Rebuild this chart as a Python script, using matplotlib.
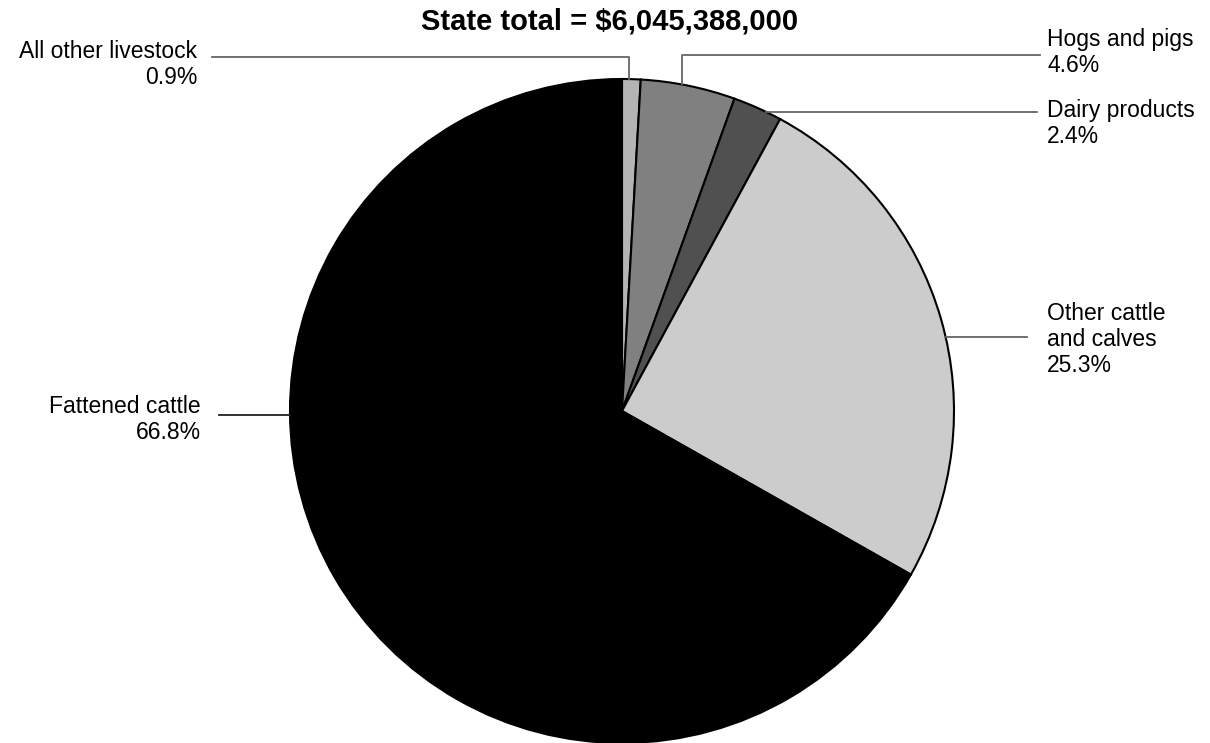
import matplotlib
matplotlib.use("Agg")
import matplotlib.pyplot as plt
import numpy as np

plt.rcParams['font.family'] = ['Liberation Sans', 'DejaVu Sans']

title = "State total = $6,045,388,000"
categories = ["All other livestock", "Hogs and pigs", "Dairy products",
              "Other cattle\nand calves", "Fattened cattle"]
shares = [0.9, 4.6, 2.4, 25.3, 66.8]
colors = ["#b4b4b4", "#808080", "#505050", "#cccccc", "#000000"]

W, H = 1210, 743
fig = plt.figure(figsize=(W / 100, H / 100), dpi=100)
ax = fig.add_axes([0, 0, 1, 1])

cx, cy, r = 622, H - 411, 332
ax.pie(shares, colors=colors, startangle=90, counterclock=False,
       center=(cx, cy), radius=r,
       wedgeprops=dict(edgecolor='black', linewidth=1.5))
ax.set_xlim(0, W)
ax.set_ylim(0, H)
ax.set_aspect('equal')
ax.axis('off')


def Y(p):
    return H - p


lc = '#666666'
lw = 1.3
fs = 16.5
gap = 26


def label(x, y_first, lines, ha):
    for i, s in enumerate(lines):
        ax.text(x, Y(y_first + i * gap), s, ha=ha, va='baseline', fontsize=fs)


# All other livestock
x0 = 629
ytop = cy + np.sqrt(r**2 - (x0 - cx)**2)
ax.plot([x0, x0, 212], [ytop, Y(57), Y(57)], color=lc, lw=lw)
label(197, 58, [categories[0], f"{shares[0]}%"], 'right')

# Hogs and pigs
x1 = 682
y1 = cy + np.sqrt(r**2 - (x1 - cx)**2)
ax.plot([x1, x1, 1040], [y1, Y(55), Y(55)], color=lc, lw=lw)
label(1047, 46, [categories[1], f"{shares[1]}%"], 'left')

# Dairy products
y2 = Y(112)
x2 = cx + np.sqrt(r**2 - (y2 - cy)**2)
ax.plot([x2, 1037], [y2, y2], color=lc, lw=lw)
label(1047, 117, [categories[2], f"{shares[2]}%"], 'left')

# Other cattle and calves
y3 = Y(337)
x3 = cx + np.sqrt(r**2 - (y3 - cy)**2)
ax.plot([x3, 1027], [y3, y3], color=lc, lw=lw)
label(1047, 320, categories[3].split("\n") + [f"{shares[3]}%"], 'left')

# Fattened cattle
y4 = Y(415)
x4 = cx - np.sqrt(r**2 - (y4 - cy)**2)
ax.plot([219, x4], [y4, y4], color='#222222', lw=lw)
label(201, 413, [categories[4], f"{shares[4]}%"], 'right')

ax.text(610, Y(29), title, ha='center', va='baseline', fontsize=21, fontweight='bold')

fig.savefig("out.png", dpi=100)
